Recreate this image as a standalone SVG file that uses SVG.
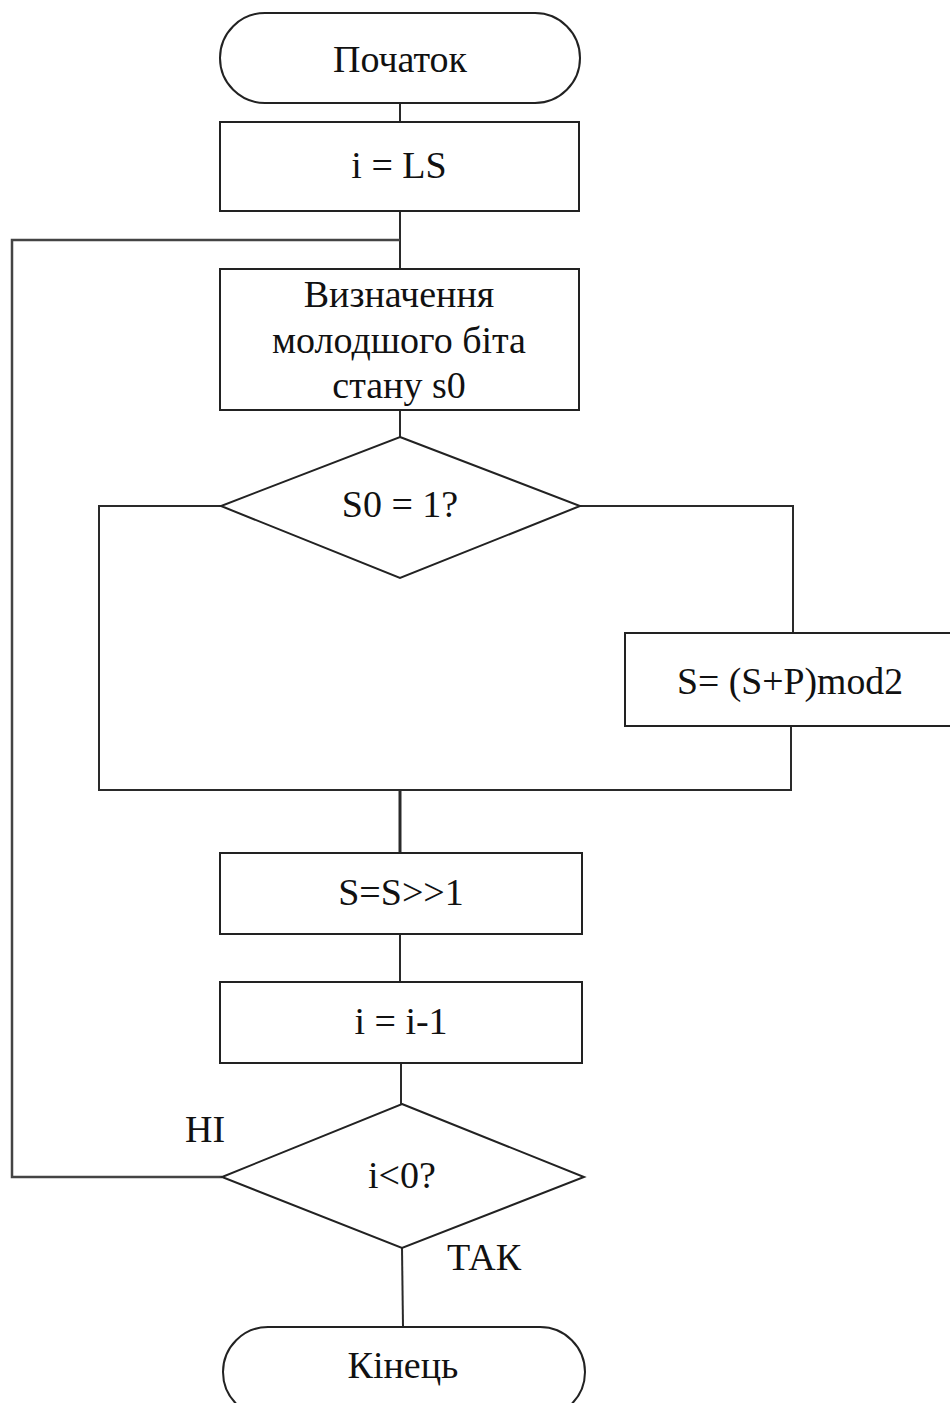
<svg xmlns="http://www.w3.org/2000/svg" width="950" height="1403" viewBox="0 0 950 1403">
<style>
.s{fill:#fff;stroke:#222;stroke-width:2}
.c{fill:none;stroke:#2a2a2a;stroke-width:2}
.t{font-family:"Liberation Serif","Times New Roman",serif;font-size:38px;fill:#111;text-anchor:middle}
</style>
<rect width="950" height="1403" fill="#fff"/>
<g id="connectors">
<path class="c" d="M400 103V122"/>
<path class="c" d="M400 211V269"/>
<path class="c" d="M400 410V437"/>
<path class="c" d="M221 506H99V790H791V726"/>
<path class="c" d="M580 506H793V633"/>
<path class="c" d="M400 790V853" style="stroke-width:3"/>
<path class="c" d="M400 934V982"/>
<path class="c" d="M401 1063V1104"/>
<path class="c" d="M222 1177H12V240H400" style="stroke:#444;stroke-width:2.5"/>
<path class="c" d="M402 1248L403 1327"/>
</g>
<g id="start"><rect class="s" x="220" y="13" width="360" height="90" rx="45"/><text class="t" x="400" y="72">Початок</text></g>
<g id="init"><rect class="s" x="220" y="122" width="359" height="89"/><text class="t" x="399" y="178">i = LS</text></g>
<g id="lsb"><rect class="s" x="220" y="269" width="359" height="141"/><text class="t" x="399" y="307">Визначення</text><text class="t" x="399" y="353">молодшого біта</text><text class="t" x="399" y="398">стану s0</text></g>
<g id="cond1"><polygon class="s" points="400,437 580,506 400,578 221,506"/><text class="t" x="400" y="517">S0 = 1?</text></g>
<g id="xor"><rect class="s" x="625" y="633" width="330" height="93"/><text class="t" x="790" y="694" textLength="226" lengthAdjust="spacingAndGlyphs">S= (S+P)mod2</text></g>
<g id="shift"><rect class="s" x="220" y="853" width="362" height="81"/><text class="t" x="401" y="905">S=S&gt;&gt;1</text></g>
<g id="dec"><rect class="s" x="220" y="982" width="362" height="81"/><text class="t" x="401" y="1034">i = i-1</text></g>
<g id="cond2"><polygon class="s" points="402,1104 584,1177 402,1248 222,1177"/><text class="t" x="402" y="1188">i&lt;0?</text><text class="t" x="205" y="1142">НІ</text><text class="t" x="484" y="1270">ТАК</text></g>
<g id="end"><rect class="s" x="223" y="1327" width="362" height="90" rx="45"/><text class="t" x="403" y="1378">Кінець</text></g>
</svg>
